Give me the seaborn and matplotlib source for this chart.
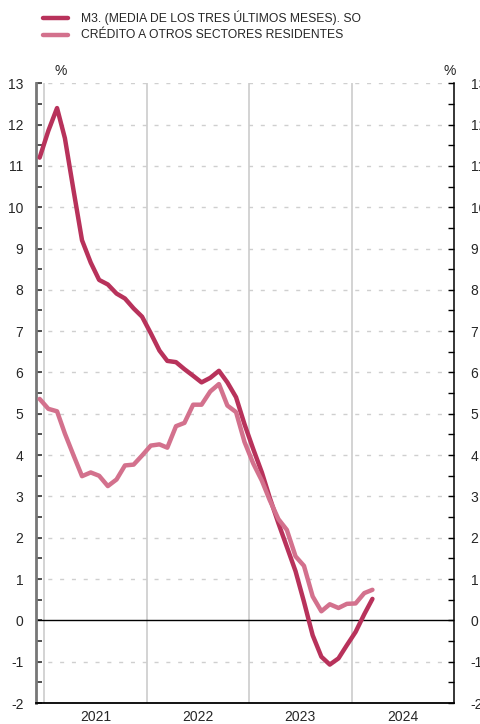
import numpy as np
import pandas as pd
import seaborn as sns
import matplotlib.pyplot as plt
import matplotlib.dates as mdates
from matplotlib.ticker import MultipleLocator

# monthly data, Dec 2020 - Mar 2024
months = pd.date_range("2020-12-01", "2024-03-01", freq="MS") + pd.Timedelta(days=14)

m3 = [11.2, 11.85, 12.4, 11.67, 10.4, 9.2, 8.66, 8.24, 8.13, 7.91, 7.79, 7.55,
      7.35, 6.95, 6.53, 6.28, 6.25, 6.08, 5.92, 5.76, 5.87, 6.04, 5.76, 5.40,
      4.75, 4.15, 3.58, 2.97, 2.35, 1.78, 1.19, 0.45, -0.36, -0.88, -1.07, -0.92,
      -0.6, -0.28, 0.15, 0.52]
credito = [5.36, 5.12, 5.06, 4.52, 3.99, 3.49, 3.58, 3.50, 3.25, 3.41, 3.75, 3.77,
           3.99, 4.23, 4.26, 4.18, 4.70, 4.78, 5.22, 5.22, 5.54, 5.72, 5.20, 5.04,
           4.32, 3.80, 3.38, 2.91, 2.45, 2.19, 1.55, 1.32, 0.58, 0.22, 0.39, 0.30,
           0.40, 0.41, 0.66, 0.74]

series_names = ["M3. (MEDIA DE LOS TRES ÚLTIMOS MESES). SO",
                "CRÉDITO A OTROS SECTORES RESIDENTES"]
colors = ["#b8325b", "#d3718d"]
years = [2021, 2022, 2023, 2024]

df = pd.concat([
    pd.DataFrame({"fecha": months, "valor": m3, "serie": series_names[0]}),
    pd.DataFrame({"fecha": months, "valor": credito, "serie": series_names[1]}),
])

sns.set_style("white")
plt.rcParams["font.family"] = ["Liberation Sans", "DejaVu Sans"]
plt.rcParams["axes.unicode_minus"] = False

fig = plt.figure(figsize=(4.8, 7.24), dpi=100)
ax = fig.add_axes([0.075, 0.029, 0.871, 0.856])

# grid first
for y in range(-2, 14):
    if y != 0:
        ax.axhline(y, color="#cfcfcf", lw=1.0, ls=(0, (2.9, 5.6)), zorder=0)
for yr in years:
    ax.axvline(pd.Timestamp(f"{yr}-01-01"), color="#cccccc", lw=1.2, zorder=0)
ax.axhline(0, color="black", lw=1.0, zorder=1)

sns.lineplot(data=df, x="fecha", y="valor", hue="serie", palette=colors,
             linewidth=3.2, ax=ax, legend=False, zorder=3)

ax.set_xlim(pd.Timestamp("2020-12-02"), pd.Timestamp("2024-12-31"))
ax.set_ylim(-2, 13)
ax.set_xlabel("")
ax.set_ylabel("")

ax.yaxis.set_major_locator(MultipleLocator(1))
ax.yaxis.set_minor_locator(MultipleLocator(0.5))
ax.xaxis.set_major_locator(mdates.YearLocator())
ax.xaxis.set_minor_locator(mdates.MonthLocator(bymonth=[1, 4, 7, 10]))
ax.xaxis.set_major_formatter(plt.NullFormatter())
ax.tick_params(axis="x", which="both", direction="in", length=4, width=1, color="black")
ax.tick_params(axis="y", which="both", direction="in", length=4, width=1.2,
               color="#333333", labelsize=10, pad=9)

for yr in years:
    ax.text(pd.Timestamp(f"{yr}-07-02"), -0.012, str(yr), transform=ax.get_xaxis_transform(),
            ha="center", va="top", fontsize=10)

ax2 = ax.twinx()
ax2.set_ylim(-2, 13)
ax2.yaxis.set_major_locator(MultipleLocator(1))
ax2.yaxis.set_minor_locator(MultipleLocator(0.5))
ax2.tick_params(axis="y", which="both", direction="in", length=4, width=1,
                color="black", labelsize=10, pad=12)

for a in (ax, ax2):
    a.spines["top"].set_visible(False)
ax.spines["left"].set_color("#777777")
ax.spines["left"].set_linewidth(2)
ax.spines["bottom"].set_color("black")
ax.spines["bottom"].set_linewidth(1.3)
ax2.spines["left"].set_visible(False)
ax2.spines["bottom"].set_visible(False)
ax2.spines["right"].set_color("black")
ax2.spines["right"].set_linewidth(1.1)
ax.spines["right"].set_visible(False)

ax.text(0.058, 1.008, "%", transform=ax.transAxes, fontsize=10, ha="center", va="bottom")
ax2.text(0.99, 1.008, "%", transform=ax.transAxes, fontsize=10, ha="center", va="bottom")

# legend
for i, (name, c) in enumerate(zip(series_names, colors)):
    yy = 1 - (18 + 17 * i) / 724
    fig.add_artist(plt.Line2D([43 / 480, 68 / 480], [yy, yy], color=c, lw=3.2))
    fig.text(81 / 480, yy, name, fontsize=8.75, va="center", ha="left")

fig.savefig("out.png", dpi=100)
